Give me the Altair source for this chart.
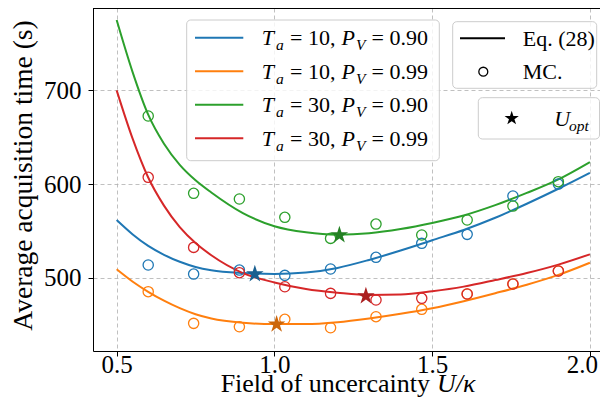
import altair as alt
import pandas as pd

FONT = "Liberation Serif"

# ---------------- data ----------------
series_keys = ["Ta10_PV090", "Ta10_PV099", "Ta30_PV090", "Ta30_PV099"]
ta_labels = ["10", "10", "30", "30"]
pv_labels = ["0.90", "0.99", "0.90", "0.99"]
line_colors = ["#1f77b4", "#ff7f0e", "#2ca02c", "#d62728"]
star_colors = ["#195f90", "#cc660b", "#238023", "#ab1f20"]

# Eq. (28) curves
x_curve = [0.50, 0.55, 0.60, 0.65, 0.70, 0.75, 0.80, 0.90, 1.00, 1.10,
           1.20, 1.30, 1.40, 1.50, 1.60, 1.70, 1.80, 1.90, 2.00]
eq_blue = [561.6, 546.5, 534.0, 524.5, 517.0, 511.5, 508.0, 505.0, 504.0, 505.5,
           510.5, 519.0, 529.0, 540.0, 551.0, 564.0, 579.0, 595.0, 612.0]
eq_orange = [509.0, 496.0, 485.0, 475.5, 467.5, 461.0, 456.5, 452.0, 450.5, 450.5,
             452.5, 456.5, 461.5, 467.5, 475.0, 483.5, 492.5, 503.0, 516.0]
eq_green = [775.0, 720.0, 674.0, 643.0, 620.5, 604.0, 591.0, 569.0, 555.0, 548.5,
            546.0, 547.5, 552.0, 558.5, 566.5, 577.5, 590.5, 605.0, 623.5]
eq_red = [700.0, 649.0, 607.0, 577.0, 554.0, 537.0, 524.0, 505.0, 495.0, 488.0,
          484.0, 481.5, 482.0, 485.5, 490.5, 497.5, 505.0, 514.0, 525.0]

# Monte-Carlo points
x_mc = [0.600, 0.744, 0.889, 1.033, 1.178, 1.322, 1.467, 1.611, 1.756, 1.900]
mc_blue = [513.6, 503.9, 508.2, 502.5, 509.3, 521.8, 536.7, 546.3, 587.2, 600.0]
mc_orange = [485.1, 451.3, 447.7, 455.6, 446.6, 458.4, 466.3, 482.6, 493.3, 507.2]
mc_green = [672.6, 590.1, 584.0, 564.5, 542.0, 557.3, 545.6, 561.6, 576.5, 602.5]
mc_red = [607.2, 532.4, 505.4, 490.4, 483.3, 476.2, 478.0, 482.6, 493.3, 507.2]

# optimum points U_opt
u_opt = [0.938, 1.007, 1.206, 1.290]
t_opt = [503.9, 450.3, 545.6, 480.5]

# ---------------- tables ----------------
curve_rows = []
for key, ys in zip(series_keys, [eq_blue, eq_orange, eq_green, eq_red]):
    for xv, yv in zip(x_curve, ys):
        curve_rows.append({"series": key, "x": xv, "y": yv})
curve_df = pd.DataFrame(curve_rows)

mc_rows = []
for key, ys in zip(series_keys, [mc_blue, mc_orange, mc_green, mc_red]):
    for xv, yv in zip(x_mc, ys):
        mc_rows.append({"series": key, "x": xv, "y": yv})
mc_df = pd.DataFrame(mc_rows)

opt_df = pd.DataFrame({"series": series_keys, "x": u_opt, "y": t_opt})

STAR = ("M0,-1L0.2245,-0.309L0.9511,-0.309L0.3633,0.118L0.5878,0.809"
        "L0,0.382L-0.5878,0.809L-0.3633,0.118L-0.9511,-0.309L-0.2245,-0.309Z")

W, H = 507, 343

x_scale = alt.Scale(domain=[0.425, 2.032], nice=False, zero=False)
y_scale = alt.Scale(domain=[421.8, 787.9], nice=False, zero=False)

grid_kw = dict(grid=True, gridColor="#b0b0b0", gridDash=[4, 3], gridWidth=0.8,
               domainColor="black", domainWidth=1, tickColor="black",
               tickSize=5, tickWidth=1, labelFont=FONT, labelFontSize=25,
               labelColor="black", labelFlush=False, labelOverlap=False)

x_axis = alt.Axis(values=[0.5, 1.0, 1.5, 2.0], format=".1f", title=None,
                  labelBaseline="alphabetic", labelPadding=16,
                  labelOffset={"condition": {"test": "datum.value >= 1.99", "value": -8}, "value": 0},
                  **grid_kw)
y_axis = alt.Axis(values=[500, 600, 700], format="d",
                  title="Average acquisition time (s)", titleFont=FONT,
                  titleFontSize=27.5, titleFontWeight="normal", titleColor="black",
                  titleX=-62, titleY=167, titleAngle=270, titleAlign="center",
                  titleBaseline="alphabetic", labelPadding=7,
                  labelBaseline="middle", **grid_kw)

X = alt.X("x:Q", scale=x_scale, axis=x_axis)
Y = alt.Y("y:Q", scale=y_scale, axis=y_axis)
color_enc = alt.Color("series:N", scale=alt.Scale(domain=series_keys, range=line_colors), legend=None)

lines = alt.Chart(curve_df).mark_line(strokeWidth=2, interpolate="monotone").encode(
    x=X, y=Y, color=color_enc)

circles = alt.Chart(mc_df).mark_point(shape="circle", filled=False, size=105,
                                      strokeWidth=1.3, opacity=1).encode(
    x=X, y=Y, color=color_enc)

stars = alt.Chart(opt_df).mark_point(shape=STAR, filled=True, size=340,
                                     strokeWidth=0, opacity=1).encode(
    x=X, y=Y,
    fill=alt.Fill("series:N", scale=alt.Scale(domain=series_keys, range=star_colors), legend=None))

dummy = pd.DataFrame({"k": [0]})


def txt(s, x, y, size=22, italic=False, align="left"):
    return alt.Chart(dummy).mark_text(
        text=s, font=FONT, fontSize=size, fontStyle="italic" if italic else "normal",
        align=align, baseline="alphabetic", color="black").encode(
        x=alt.value(x), y=alt.value(y))


def box(x1, y1, x2, y2):
    return alt.Chart(dummy).mark_rect(
        fill="white", fillOpacity=0.8, stroke="#cccccc", strokeWidth=1,
        cornerRadius=4).encode(
        x=alt.value(x1), x2=alt.value(x2), y=alt.value(y1), y2=alt.value(y2))


def hline(x1, x2, y, color, width=2):
    return alt.Chart(dummy).mark_rule(color=color, strokeWidth=width).encode(
        x=alt.value(x1), x2=alt.value(x2), y=alt.value(y))


layers = [lines, circles, stars]

# top spine
layers.append(hline(0, W, 0.5, "black", 1))

# x axis title (regular text + italic math part)
layers.append(txt("Field of uncercainty", 337, 384, size=26, align="right"))
layers.append(txt("U/κ", 344, 384, size=26, italic=True))

# legend 1: series
layers.append(box(93.7, 12, 346.3, 152.7))
for i, (c, ta, pv) in enumerate(zip(line_colors, ta_labels, pv_labels)):
    cy = 29.7 + 33.5 * i
    base = cy + 7.5
    sub = base + 5
    layers.append(hline(102, 150.3, cy, c, 2))
    layers.append(txt("T", 168.7, base, italic=True))
    layers.append(txt("a", 183.0, sub, size=15.5, italic=True))
    layers.append(txt("= " + ta + ",", 197, base))
    layers.append(txt("P", 248.5, base, italic=True))
    layers.append(txt("V", 263.0, sub, size=15.5, italic=True))
    layers.append(txt("= " + pv, 278.5, base))

# legend 2: line / MC
layers.append(box(359.7, 13.7, 503.7, 80.3))
layers.append(hline(367, 412, 30.3, "black", 2))
layers.append(txt("Eq. (28)", 429.7, 37.8))
layers.append(alt.Chart(dummy).mark_point(shape="circle", filled=False, size=80,
                                          strokeWidth=1.3, color="black", opacity=1).encode(
    x=alt.value(390.3), y=alt.value(63.7)))
layers.append(txt("MC.", 429.7, 71.2))

# legend 3: U_opt
layers.append(box(385.3, 89.7, 506.5, 131))
layers.append(alt.Chart(dummy).mark_point(shape=STAR, filled=True, size=225,
                                          strokeWidth=0, color="black", opacity=1).encode(
    x=alt.value(418.7), y=alt.value(110.3)))
layers.append(txt("U", 461.3, 117.8, italic=True))
layers.append(txt("opt", 476.0, 122.8, size=15.5, italic=True))

chart = alt.layer(*layers).properties(
    width=W, height=H,
    padding={"left": 85, "top": 0, "right": 0, "bottom": 47},
    autosize=alt.AutoSizeParams(type="none"),
    background="white",
).configure_view(strokeWidth=0)

chart.save("out.html", embed_options={"renderer": "svg", "actions": False})
